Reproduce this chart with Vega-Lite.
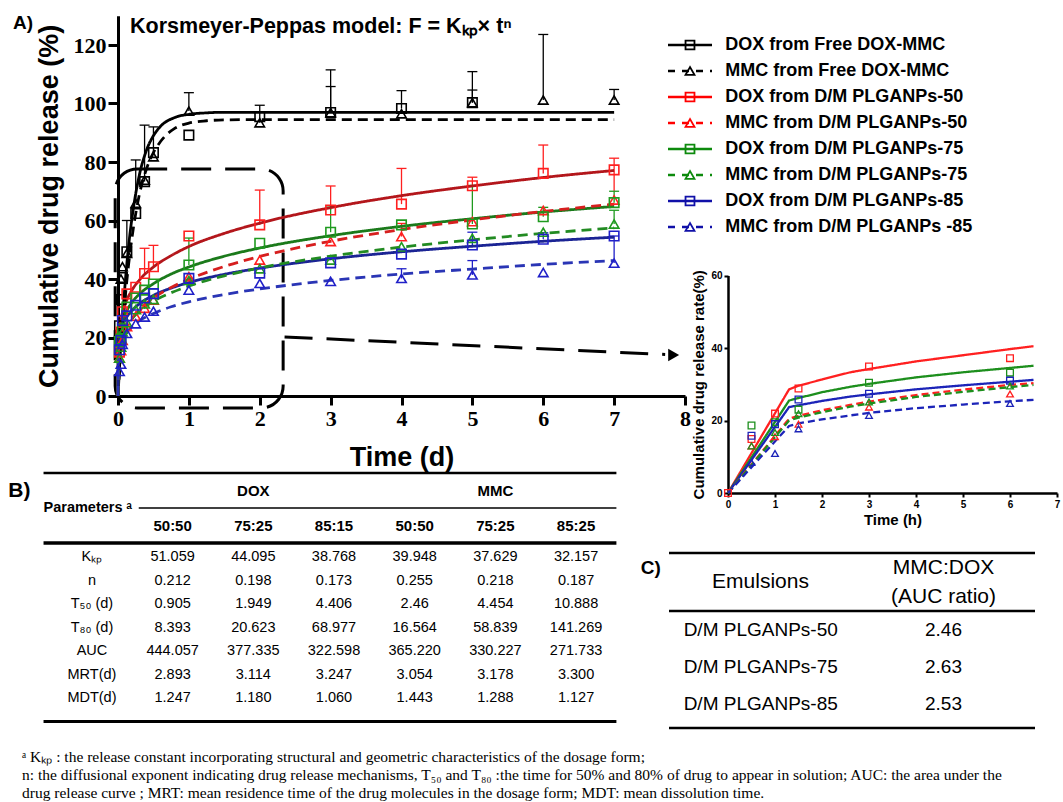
{
"$schema": "https://vega.github.io/schema/vega-lite/v6.json",
"width": 1063, "height": 802, "autosize": {"type": "none"}, "padding": 0,
"background": "white",
"config": {"view": {"stroke": null}, "axis": {"grid": false}},
"datasets": {
"pts": [
{"s":"F-D","t":0.0208,"v":24},{"s":"F-D","t":0.0417,"v":33},{"s":"F-D","t":0.0625,"v":40.5},{"s":"F-D","t":0.125,"v":49.3},{"s":"F-D","t":0.25,"v":62.4},{"s":"F-D","t":0.375,"v":73.3},{"s":"F-D","t":0.5,"v":83.2},{"s":"F-D","t":1,"v":89.2},{"s":"F-D","t":2,"v":95.5},{"s":"F-D","t":3,"v":96.9},{"s":"F-D","t":4,"v":98.3},{"s":"F-D","t":5,"v":100.3},
{"s":"F-M","t":0.0208,"v":22},{"s":"F-M","t":0.0417,"v":40},{"s":"F-M","t":0.0625,"v":44.2},{"s":"F-M","t":0.125,"v":48.8},{"s":"F-M","t":0.25,"v":65.9},{"s":"F-M","t":0.375,"v":73.8},{"s":"F-M","t":0.5,"v":81.8},{"s":"F-M","t":1,"v":97.4},{"s":"F-M","t":2,"v":93.4},{"s":"F-M","t":3,"v":96.9},{"s":"F-M","t":4,"v":96.5},{"s":"F-M","t":5,"v":100.3},{"s":"F-M","t":6,"v":101.2},{"s":"F-M","t":7,"v":101.2},
{"s":"50-D","t":0.0208,"v":15},{"s":"50-D","t":0.0417,"v":21.9},{"s":"50-D","t":0.0625,"v":28.8},{"s":"50-D","t":0.125,"v":34.9},{"s":"50-D","t":0.25,"v":37.2},{"s":"50-D","t":0.375,"v":41.9},{"s":"50-D","t":0.5,"v":44.2},{"s":"50-D","t":1,"v":54.7},{"s":"50-D","t":2,"v":58.5},{"s":"50-D","t":3,"v":63.6},{"s":"50-D","t":4,"v":65.6},{"s":"50-D","t":5,"v":71.9},{"s":"50-D","t":6,"v":76.1},{"s":"50-D","t":7,"v":77.3},
{"s":"50-M","t":0.0208,"v":13},{"s":"50-M","t":0.0417,"v":15.5},{"s":"50-M","t":0.0625,"v":19},{"s":"50-M","t":0.125,"v":23.7},{"s":"50-M","t":0.25,"v":27.3},{"s":"50-M","t":0.375,"v":30},{"s":"50-M","t":0.5,"v":32.8},{"s":"50-M","t":1,"v":40.8},{"s":"50-M","t":2,"v":46.5},{"s":"50-M","t":3,"v":52.8},{"s":"50-M","t":4,"v":54.5},{"s":"50-M","t":5,"v":59.6},{"s":"50-M","t":6,"v":63.4},{"s":"50-M","t":7,"v":67},
{"s":"75-D","t":0.0208,"v":18.6},{"s":"75-D","t":0.0417,"v":19.5},{"s":"75-D","t":0.0625,"v":23},{"s":"75-D","t":0.125,"v":30.4},{"s":"75-D","t":0.25,"v":33.5},{"s":"75-D","t":0.375,"v":36.2},{"s":"75-D","t":0.5,"v":38.3},{"s":"75-D","t":1,"v":44.8},{"s":"75-D","t":2,"v":52.2},{"s":"75-D","t":3,"v":56},{"s":"75-D","t":4,"v":58.5},{"s":"75-D","t":5,"v":58.8},{"s":"75-D","t":6,"v":61.3},{"s":"75-D","t":7,"v":66.1},
{"s":"75-M","t":0.0208,"v":13},{"s":"75-M","t":0.0417,"v":16.7},{"s":"75-M","t":0.0625,"v":21.9},{"s":"75-M","t":0.125,"v":25.1},{"s":"75-M","t":0.25,"v":29.5},{"s":"75-M","t":0.375,"v":31.5},{"s":"75-M","t":0.5,"v":33},{"s":"75-M","t":1,"v":39.5},{"s":"75-M","t":2,"v":43.5},{"s":"75-M","t":3,"v":46.5},{"s":"75-M","t":4,"v":51},{"s":"75-M","t":5,"v":53.9},{"s":"75-M","t":6,"v":56},{"s":"75-M","t":7,"v":58.8},
{"s":"85-D","t":0.0208,"v":15.8},{"s":"85-D","t":0.0417,"v":19},{"s":"85-D","t":0.0625,"v":25.8},{"s":"85-D","t":0.125,"v":27.4},{"s":"85-D","t":0.25,"v":31},{"s":"85-D","t":0.375,"v":33.5},{"s":"85-D","t":0.5,"v":35},{"s":"85-D","t":1,"v":40.2},{"s":"85-D","t":2,"v":42},{"s":"85-D","t":3,"v":45.5},{"s":"85-D","t":4,"v":48.5},{"s":"85-D","t":5,"v":51.6},{"s":"85-D","t":6,"v":53.6},{"s":"85-D","t":7,"v":54.7},
{"s":"85-M","t":0.0208,"v":8.4},{"s":"85-M","t":0.0417,"v":10.9},{"s":"85-M","t":0.0625,"v":17.7},{"s":"85-M","t":0.125,"v":21.4},{"s":"85-M","t":0.25,"v":24.7},{"s":"85-M","t":0.375,"v":27},{"s":"85-M","t":0.5,"v":29},{"s":"85-M","t":1,"v":36.2},{"s":"85-M","t":2,"v":38.5},{"s":"85-M","t":3,"v":39.2},{"s":"85-M","t":4,"v":40.2},{"s":"85-M","t":5,"v":41.4},{"s":"85-M","t":6,"v":42.2},{"s":"85-M","t":7,"v":45.4}
],
"err": [
{"s":"F-D","t":0.125,"v":49.3,"hi":60},{"s":"F-D","t":0.375,"v":73.3,"hi":92.6},{"s":"F-D","t":0.5,"v":83.2,"hi":92},{"s":"F-D","t":3,"v":96.9,"hi":105.8},{"s":"F-D","t":4,"v":98.3,"hi":104.4},{"s":"F-D","t":5,"v":100.3,"hi":104.6},
{"s":"F-M","t":0.25,"v":65.9,"hi":80.7},{"s":"F-M","t":1,"v":97.4,"hi":103.7},{"s":"F-M","t":2,"v":93.4,"hi":99.4},{"s":"F-M","t":3,"v":96.9,"hi":111.5},{"s":"F-M","t":5,"v":100.3,"hi":110.9},{"s":"F-M","t":6,"v":101.2,"hi":123.6},{"s":"F-M","t":7,"v":101.2,"hi":104.8},
{"s":"50-D","t":0.375,"v":41.9,"hi":50.5},{"s":"50-D","t":0.5,"v":44.2,"hi":51.5},{"s":"50-D","t":2,"v":58.5,"hi":70.4},{"s":"50-D","t":3,"v":63.6,"hi":71.8},{"s":"50-D","t":4,"v":65.6,"hi":77.8},{"s":"50-D","t":5,"v":71.9,"hi":74.8},{"s":"50-D","t":6,"v":76.1,"hi":85.8},{"s":"50-D","t":7,"v":70,"hi":81.3},
{"s":"50-M","t":4,"v":54.5,"hi":59},
{"s":"75-D","t":1,"v":44.8,"hi":54},{"s":"75-D","t":3,"v":56,"hi":65},{"s":"75-D","t":5,"v":58.8,"hi":72},{"s":"75-D","t":6,"v":61.3,"hi":64.5},{"s":"75-D","t":7,"v":66.1,"hi":70},
{"s":"75-M","t":7,"v":58.8,"hi":63.5},
{"s":"85-D","t":5,"v":51.6,"hi":56},{"s":"85-D","t":6,"v":53.6,"hi":55.8},{"s":"85-D","t":7,"v":45.5,"hi":54.7},
{"s":"85-M","t":4,"v":40.2,"hi":43.5},{"s":"85-M","t":5,"v":41.4,"hi":46.3}
],
"fit": [
{"s":"F-D","t":0,"v":0},{"s":"F-D","t":0.025,"v":11.4},{"s":"F-D","t":0.05,"v":21.5},{"s":"F-D","t":0.1,"v":38.2},{"s":"F-D","t":0.15,"v":51.4},{"s":"F-D","t":0.2,"v":61.3},{"s":"F-D","t":0.3,"v":75.4},{"s":"F-D","t":0.4,"v":83.9},{"s":"F-D","t":0.5,"v":89},{"s":"F-D","t":0.6,"v":92.2},{"s":"F-D","t":0.8,"v":95.2},{"s":"F-D","t":1,"v":96.3},{"s":"F-D","t":1.25,"v":96.8},{"s":"F-D","t":1.5,"v":97},{"s":"F-D","t":2,"v":97},{"s":"F-D","t":7,"v":97},
{"s":"F-M","t":0,"v":0},{"s":"F-M","t":0.025,"v":9.9},{"s":"F-M","t":0.05,"v":18.9},{"s":"F-M","t":0.1,"v":33.3},{"s":"F-M","t":0.15,"v":45.1},{"s":"F-M","t":0.2,"v":54.6},{"s":"F-M","t":0.3,"v":68.7},{"s":"F-M","t":0.4,"v":77.5},{"s":"F-M","t":0.5,"v":83.2},{"s":"F-M","t":0.6,"v":87},{"s":"F-M","t":0.8,"v":91.5},{"s":"F-M","t":1,"v":93.3},{"s":"F-M","t":1.25,"v":94.1},{"s":"F-M","t":1.5,"v":94.4},{"s":"F-M","t":2,"v":94.5},{"s":"F-M","t":7,"v":94.5},
{"s":"50-D","t":0,"v":0},{"s":"50-D","t":0.005,"v":16.6},{"s":"50-D","t":0.01,"v":19.2},{"s":"50-D","t":0.02,"v":22.3},{"s":"50-D","t":0.05,"v":27.1},{"s":"50-D","t":0.1,"v":31.3},{"s":"50-D","t":0.2,"v":36.3},{"s":"50-D","t":0.3,"v":39.6},{"s":"50-D","t":0.5,"v":44.1},{"s":"50-D","t":0.75,"v":48},{"s":"50-D","t":1,"v":51.1},{"s":"50-D","t":1.5,"v":55.6},{"s":"50-D","t":2,"v":59.1},{"s":"50-D","t":3,"v":64.4},{"s":"50-D","t":4,"v":68.5},{"s":"50-D","t":5,"v":71.8},{"s":"50-D","t":6,"v":74.7},{"s":"50-D","t":7,"v":77.1},
{"s":"75-D","t":0,"v":0},{"s":"75-D","t":0.005,"v":15.4},{"s":"75-D","t":0.01,"v":17.7},{"s":"75-D","t":0.02,"v":20.3},{"s":"75-D","t":0.05,"v":24.4},{"s":"75-D","t":0.1,"v":27.9},{"s":"75-D","t":0.2,"v":32.1},{"s":"75-D","t":0.3,"v":34.8},{"s":"75-D","t":0.5,"v":38.4},{"s":"75-D","t":0.75,"v":41.7},{"s":"75-D","t":1,"v":44.1},{"s":"75-D","t":1.5,"v":47.8},{"s":"75-D","t":2,"v":50.6},{"s":"75-D","t":3,"v":54.8},{"s":"75-D","t":4,"v":58},{"s":"75-D","t":5,"v":60.6},{"s":"75-D","t":6,"v":62.9},{"s":"75-D","t":7,"v":64.8},
{"s":"85-D","t":0,"v":0},{"s":"85-D","t":0.005,"v":15.5},{"s":"85-D","t":0.01,"v":17.5},{"s":"85-D","t":0.02,"v":19.7},{"s":"85-D","t":0.05,"v":23.1},{"s":"85-D","t":0.1,"v":26},{"s":"85-D","t":0.2,"v":29.3},{"s":"85-D","t":0.3,"v":31.5},{"s":"85-D","t":0.5,"v":34.4},{"s":"85-D","t":0.75,"v":36.9},{"s":"85-D","t":1,"v":38.8},{"s":"85-D","t":1.5,"v":41.6},{"s":"85-D","t":2,"v":43.7},{"s":"85-D","t":3,"v":46.9},{"s":"85-D","t":4,"v":49.3},{"s":"85-D","t":5,"v":51.2},{"s":"85-D","t":6,"v":52.9},{"s":"85-D","t":7,"v":54.3},
{"s":"50-M","t":0,"v":0},{"s":"50-M","t":0.005,"v":10.3},{"s":"50-M","t":0.01,"v":12.3},{"s":"50-M","t":0.02,"v":14.7},{"s":"50-M","t":0.05,"v":18.6},{"s":"50-M","t":0.1,"v":22.2},{"s":"50-M","t":0.2,"v":26.5},{"s":"50-M","t":0.3,"v":29.4},{"s":"50-M","t":0.5,"v":33.5},{"s":"50-M","t":0.75,"v":37.1},{"s":"50-M","t":1,"v":39.9},{"s":"50-M","t":1.5,"v":44.3},{"s":"50-M","t":2,"v":47.7},{"s":"50-M","t":3,"v":52.9},{"s":"50-M","t":4,"v":56.9},{"s":"50-M","t":5,"v":60.2},{"s":"50-M","t":6,"v":63.1},{"s":"50-M","t":7,"v":65.6},
{"s":"75-M","t":0,"v":0},{"s":"75-M","t":0.005,"v":11.9},{"s":"75-M","t":0.01,"v":13.8},{"s":"75-M","t":0.02,"v":16},{"s":"75-M","t":0.05,"v":19.6},{"s":"75-M","t":0.1,"v":22.8},{"s":"75-M","t":0.2,"v":26.5},{"s":"75-M","t":0.3,"v":28.9},{"s":"75-M","t":0.5,"v":32.4},{"s":"75-M","t":0.75,"v":35.3},{"s":"75-M","t":1,"v":37.6},{"s":"75-M","t":1.5,"v":41.1},{"s":"75-M","t":2,"v":43.8},{"s":"75-M","t":3,"v":47.8},{"s":"75-M","t":4,"v":50.9},{"s":"75-M","t":5,"v":53.4},{"s":"75-M","t":6,"v":55.6},{"s":"75-M","t":7,"v":57.5},
{"s":"85-M","t":0,"v":0},{"s":"85-M","t":0.005,"v":11.9},{"s":"85-M","t":0.01,"v":13.6},{"s":"85-M","t":0.02,"v":15.5},{"s":"85-M","t":0.05,"v":18.4},{"s":"85-M","t":0.1,"v":20.9},{"s":"85-M","t":0.2,"v":23.8},{"s":"85-M","t":0.3,"v":25.7},{"s":"85-M","t":0.5,"v":28.2},{"s":"85-M","t":0.75,"v":30.5},{"s":"85-M","t":1,"v":32.2},{"s":"85-M","t":1.5,"v":34.7},{"s":"85-M","t":2,"v":36.6},{"s":"85-M","t":3,"v":39.5},{"s":"85-M","t":4,"v":41.7},{"s":"85-M","t":5,"v":43.4},{"s":"85-M","t":6,"v":45},{"s":"85-M","t":7,"v":46.3}
],
"ipts": [
{"s":"50-D","t":0,"v":0},{"s":"50-D","t":0.5,"v":14.9},{"s":"50-D","t":1,"v":21.9},{"s":"50-D","t":1.5,"v":28.8},{"s":"50-D","t":3,"v":34.9},{"s":"50-D","t":6,"v":37.2},
{"s":"75-D","t":0.5,"v":18.6},{"s":"75-D","t":1,"v":19.5},{"s":"75-D","t":1.5,"v":23},{"s":"75-D","t":3,"v":30.4},{"s":"75-D","t":6,"v":33.2},
{"s":"85-D","t":0.5,"v":15.8},{"s":"85-D","t":1,"v":19},{"s":"85-D","t":1.5,"v":25.8},{"s":"85-D","t":3,"v":27.4},{"s":"85-D","t":6,"v":31},
{"s":"50-M","t":0.5,"v":13},{"s":"50-M","t":1,"v":15.5},{"s":"50-M","t":1.5,"v":19},{"s":"50-M","t":3,"v":23.7},{"s":"50-M","t":6,"v":27.3},
{"s":"75-M","t":0.5,"v":13},{"s":"75-M","t":1,"v":16.7},{"s":"75-M","t":1.5,"v":21.9},{"s":"75-M","t":3,"v":25.1},{"s":"75-M","t":6,"v":29.5},
{"s":"85-M","t":0.5,"v":8.4},{"s":"85-M","t":1,"v":10.9},{"s":"85-M","t":1.5,"v":17.7},{"s":"85-M","t":3,"v":21.4},{"s":"85-M","t":6,"v":24.7}
],
"ifit": [
{"s":"50-D","t":0,"v":0},{"s":"50-D","t":1.3,"v":28.6},{"s":"50-D","t":1.5,"v":29.6},{"s":"50-D","t":2,"v":31.3},{"s":"50-D","t":2.6,"v":33.3},{"s":"50-D","t":3,"v":34.2},{"s":"50-D","t":4,"v":36.3},{"s":"50-D","t":5,"v":38},{"s":"50-D","t":6,"v":39.7},{"s":"50-D","t":6.5,"v":40.5},
{"s":"75-D","t":0,"v":0},{"s":"75-D","t":1.3,"v":25.5},{"s":"75-D","t":1.5,"v":26.2},{"s":"75-D","t":2,"v":27.8},{"s":"75-D","t":2.6,"v":29.3},{"s":"75-D","t":3,"v":30.1},{"s":"75-D","t":4,"v":31.9},{"s":"75-D","t":5,"v":33.3},{"s":"75-D","t":6,"v":34.5},{"s":"75-D","t":6.5,"v":35.1},
{"s":"85-D","t":0,"v":0},{"s":"85-D","t":1.3,"v":23.7},{"s":"85-D","t":1.5,"v":24.2},{"s":"85-D","t":2,"v":25.4},{"s":"85-D","t":2.6,"v":26.6},{"s":"85-D","t":3,"v":27.2},{"s":"85-D","t":4,"v":28.6},{"s":"85-D","t":5,"v":29.7},{"s":"85-D","t":6,"v":30.7},{"s":"85-D","t":6.5,"v":31.2},
{"s":"50-M","t":0,"v":0},{"s":"50-M","t":1.3,"v":20.5},{"s":"50-M","t":1.5,"v":21.3},{"s":"50-M","t":2,"v":22.8},{"s":"50-M","t":2.6,"v":24.3},{"s":"50-M","t":3,"v":25.2},{"s":"50-M","t":4,"v":27},{"s":"50-M","t":5,"v":28.5},{"s":"50-M","t":6,"v":29.8},{"s":"50-M","t":6.5,"v":30.3},
{"s":"75-M","t":0,"v":0},{"s":"75-M","t":1.3,"v":20},{"s":"75-M","t":1.5,"v":20.8},{"s":"75-M","t":2,"v":22.3},{"s":"75-M","t":2.6,"v":23.8},{"s":"75-M","t":3,"v":24.7},{"s":"75-M","t":4,"v":26.5},{"s":"75-M","t":5,"v":27.9},{"s":"75-M","t":6,"v":29.2},{"s":"75-M","t":6.5,"v":29.8},
{"s":"85-M","t":0,"v":0},{"s":"85-M","t":1.3,"v":18.5},{"s":"85-M","t":1.5,"v":19.2},{"s":"85-M","t":2,"v":20.3},{"s":"85-M","t":2.6,"v":21.4},{"s":"85-M","t":3,"v":22.1},{"s":"85-M","t":4,"v":23.4},{"s":"85-M","t":5,"v":24.4},{"s":"85-M","t":6,"v":25.3},{"s":"85-M","t":6.5,"v":25.7}
],
"tbc": [
{"r":"Kkp","c":"lab","txt":"Kₖₚ"},{"r":"n","c":"lab","txt":"n"},{"r":"T50","c":"lab","txt":"T₅₀ (d)"},{"r":"T80","c":"lab","txt":"T₈₀ (d)"},{"r":"AUC","c":"lab","txt":"AUC"},{"r":"MRT","c":"lab","txt":"MRT(d)"},{"r":"MDT","c":"lab","txt":"MDT(d)"},
{"r":"Kkp","c":"d50","txt":"51.059"},{"r":"Kkp","c":"d75","txt":"44.095"},{"r":"Kkp","c":"d85","txt":"38.768"},{"r":"Kkp","c":"m50","txt":"39.948"},{"r":"Kkp","c":"m75","txt":"37.629"},{"r":"Kkp","c":"m85","txt":"32.157"},
{"r":"n","c":"d50","txt":"0.212"},{"r":"n","c":"d75","txt":"0.198"},{"r":"n","c":"d85","txt":"0.173"},{"r":"n","c":"m50","txt":"0.255"},{"r":"n","c":"m75","txt":"0.218"},{"r":"n","c":"m85","txt":"0.187"},
{"r":"T50","c":"d50","txt":"0.905"},{"r":"T50","c":"d75","txt":"1.949"},{"r":"T50","c":"d85","txt":"4.406"},{"r":"T50","c":"m50","txt":"2.46"},{"r":"T50","c":"m75","txt":"4.454"},{"r":"T50","c":"m85","txt":"10.888"},
{"r":"T80","c":"d50","txt":"8.393"},{"r":"T80","c":"d75","txt":"20.623"},{"r":"T80","c":"d85","txt":"68.977"},{"r":"T80","c":"m50","txt":"16.564"},{"r":"T80","c":"m75","txt":"58.839"},{"r":"T80","c":"m85","txt":"141.269"},
{"r":"AUC","c":"d50","txt":"444.057"},{"r":"AUC","c":"d75","txt":"377.335"},{"r":"AUC","c":"d85","txt":"322.598"},{"r":"AUC","c":"m50","txt":"365.220"},{"r":"AUC","c":"m75","txt":"330.227"},{"r":"AUC","c":"m85","txt":"271.733"},
{"r":"MRT","c":"d50","txt":"2.893"},{"r":"MRT","c":"d75","txt":"3.114"},{"r":"MRT","c":"d85","txt":"3.247"},{"r":"MRT","c":"m50","txt":"3.054"},{"r":"MRT","c":"m75","txt":"3.178"},{"r":"MRT","c":"m85","txt":"3.300"},
{"r":"MDT","c":"d50","txt":"1.247"},{"r":"MDT","c":"d75","txt":"1.180"},{"r":"MDT","c":"d85","txt":"1.060"},{"r":"MDT","c":"m50","txt":"1.443"},{"r":"MDT","c":"m75","txt":"1.288"},{"r":"MDT","c":"m85","txt":"1.127"}
]
},
"layer": [
{
"encoding": {
 "x": {"field":"t","type":"quantitative","scale":{"domain":[0,8],"range":[118,685],"nice":false,"zero":false},
  "axis":{"orient":"bottom","offset":-406,"values":[0,1,2,3,4,5,6,7,8],"title":"Time (d)","titleFont":"Liberation Sans","titleFontSize":27,"titleFontWeight":"bold","titleColor":"#000","titlePadding":15,"labelFont":"Liberation Serif","labelFontSize":22,"labelFontWeight":"bold","labelColor":"#000","labelPadding":3,"tickSize":9,"tickWidth":3,"tickColor":"#000","domainWidth":3,"domainColor":"#000","labelFlush":false,"labelOverlap":false}},
 "y": {"field":"v","type":"quantitative","scale":{"domain":[0,130],"range":[396,15.75],"nice":false,"zero":false},
  "axis":{"orient":"left","offset":-118,"values":[0,20,40,60,80,100,120],"title":"Cumulative drug release (%)","titleFont":"Liberation Sans","titleFontSize":27,"titleFontWeight":"bold","titleColor":"#000","titlePadding":10,"labelFont":"Liberation Serif","labelFontSize":22,"labelFontWeight":"bold","labelColor":"#000","labelPadding":2,"tickSize":10,"tickWidth":3,"tickColor":"#000","domainWidth":3,"domainColor":"#000","labelFlush":false,"labelOverlap":false}}
},
"layer": [
 {"data":{"values":[{"t":-0.04,"t2":2.33,"v":-4.1,"v2":77.6}]},"mark":{"type":"rect","fillOpacity":0,"fill":"white","stroke":"#000","strokeWidth":3,"strokeDash":[30,14],"cornerRadius":22},"encoding":{"x2":{"field":"t2"},"y2":{"field":"v2"}}},
 {"data":{"values":[{"t":2.35,"v":20.2,"t2":7.72,"v2":14.2}]},"mark":{"type":"rule","stroke":"#000","strokeWidth":3,"strokeDash":[28,14]},"encoding":{"x2":{"field":"t2"},"y2":{"field":"v2"}}},
 {"data":{"values":[{"t":7.84,"v":14.0}]},"mark":{"type":"point","shape":"triangle-right","filled":true,"color":"#000","size":160,"opacity":1}},
 {"data":{"name":"err"},"mark":{"type":"rule","strokeWidth":1.3},"encoding":{"y2":{"field":"hi"},"stroke":{"field":"s","type":"nominal","scale":{"domain":["F-D","F-M","50-D","50-M","75-D","75-M","85-D","85-M"],"range":["#000000","#000000","#ff2020","#ff2020","#1f9a1f","#1f9a1f","#2020c8","#2020c8"]},"legend":null}}},
 {"data":{"name":"err"},"mark":{"type":"point","shape":"stroke","size":100,"strokeWidth":1.3,"opacity":1,"filled":false},"encoding":{"y":{"field":"hi","type":"quantitative"},"stroke":{"field":"s","type":"nominal","legend":null}}},
 {"data":{"name":"fit"},"mark":{"type":"line","strokeWidth":2.8,"interpolate":"monotone"},"encoding":{"color":{"field":"s","type":"nominal","scale":{"domain":["F-D","F-M","50-D","50-M","75-D","75-M","85-D","85-M"],"range":["#000000","#000000","#b3161b","#d61f1f","#1b7a1b","#228b22","#1b2494","#2a35b5"]},"legend":null},"strokeDash":{"field":"s","type":"nominal","scale":{"domain":["F-D","F-M","50-D","50-M","75-D","75-M","85-D","85-M"],"range":[[1,0],[10,6],[1,0],[10,6],[1,0],[10,6],[1,0],[10,6]]},"legend":null}}},
 {"data":{"name":"pts"},"mark":{"type":"point","filled":false,"size":90,"strokeWidth":1.6,"opacity":1},"encoding":{"shape":{"field":"s","type":"nominal","scale":{"domain":["F-D","F-M","50-D","50-M","75-D","75-M","85-D","85-M"],"range":["square","triangle-up","square","triangle-up","square","triangle-up","square","triangle-up"]},"legend":null},"stroke":{"field":"s","type":"nominal","legend":null}}},
 {"data":{"values":[{"t":0.17,"v":126.2,"txt":"Korsmeyer-Peppas model: F = Kₖₚ×  tⁿ"}]},"mark":{"type":"text","align":"left","baseline":"middle","font":"Liberation Sans","fontSize":21.5,"fontWeight":"bold","color":"#000"},"encoding":{"text":{"field":"txt"}}},
 {"data":{"values":[{"t":-1.48,"v":127.5,"txt":"A)"}]},"mark":{"type":"text","align":"left","baseline":"middle","font":"Liberation Sans","fontSize":19,"fontWeight":"bold","color":"#000"},"encoding":{"text":{"field":"txt"}}}
]
},
{
"data": {"values": [{"s":"F-D","name":"DOX from Free DOX-MMC"},{"s":"F-M","name":"MMC from Free DOX-MMC"},{"s":"50-D","name":"DOX from D/M PLGANPs-50"},{"s":"50-M","name":"MMC from D/M PLGANPs-50"},{"s":"75-D","name":"DOX from D/M PLGANPs-75"},{"s":"75-M","name":"MMC from D/M PLGANPs-75"},{"s":"85-D","name":"DOX from D/M PLGANPs-85"},{"s":"85-M","name":"MMC from D/M PLGANPs -85"}]},
"encoding": {"y": {"field":"s","type":"nominal","scale":{"type":"point","domain":["F-D","F-M","50-D","50-M","75-D","75-M","85-D","85-M"],"range":[45,227],"padding":0},"axis":null}},
"layer": [
 {"mark":{"type":"rule","strokeWidth":2.5},"encoding":{"x":{"datum":0,"type":"quantitative","scale":{"domain":[0,1],"range":[668,712],"nice":false,"zero":false},"axis":null},"x2":{"datum":1},"color":{"field":"s","type":"nominal","scale":{"domain":["F-D","F-M","50-D","50-M","75-D","75-M","85-D","85-M"],"range":["#000000","#000000","#ff0000","#ff0000","#0d8a0d","#0d8a0d","#1010a8","#1010a8"]},"legend":null},"strokeDash":{"field":"s","type":"nominal","scale":{"domain":["F-D","F-M","50-D","50-M","75-D","75-M","85-D","85-M"],"range":[[1,0],[7,7],[1,0],[7,7],[1,0],[7,7],[1,0],[7,7]]},"legend":null}}},
 {"mark":{"type":"point","filled":false,"size":80,"strokeWidth":1.8,"opacity":1},"encoding":{"x":{"datum":0.5,"type":"quantitative"},"shape":{"field":"s","type":"nominal","scale":{"domain":["F-D","F-M","50-D","50-M","75-D","75-M","85-D","85-M"],"range":["square","triangle-up","square","triangle-up","square","triangle-up","square","triangle-up"]},"legend":null},"stroke":{"field":"s","type":"nominal","scale":{"domain":["F-D","F-M","50-D","50-M","75-D","75-M","85-D","85-M"],"range":["#000000","#000000","#ff0000","#ff0000","#0d8a0d","#0d8a0d","#1010a8","#1010a8"]},"legend":null}}},
 {"mark":{"type":"text","align":"left","baseline":"middle","font":"Liberation Sans","fontSize":18,"fontWeight":"bold","color":"#000"},"encoding":{"x":{"datum":1.3,"type":"quantitative"},"text":{"field":"name"}}}
]
},
{
"encoding": {
 "x": {"field":"t","type":"quantitative","scale":{"domain":[0,7],"range":[728,1057],"nice":false,"zero":false},
  "axis":{"orient":"bottom","offset":-309,"values":[0,1,2,3,4,5,6,7],"title":"Time (h)","titleFont":"Liberation Sans","titleFontSize":15,"titleFontWeight":"bold","titleColor":"#000","titlePadding":3,"labelFont":"Liberation Sans","labelFontSize":10,"labelFontWeight":"bold","labelColor":"#000","labelPadding":2,"tickSize":4,"tickWidth":2,"tickColor":"#000","domainWidth":2.5,"domainColor":"#000","labelFlush":false,"labelOverlap":false}},
 "y": {"field":"v","type":"quantitative","scale":{"domain":[0,60],"range":[493,275.5],"nice":false,"zero":false},
  "axis":{"orient":"left","offset":-728,"values":[0,20,40,60],"title":"Cumulative drug release rate(%)","titleFont":"Liberation Sans","titleFontSize":15,"titleFontWeight":"bold","titleColor":"#000","titlePadding":4,"labelFont":"Liberation Sans","labelFontSize":10,"labelFontWeight":"bold","labelColor":"#000","labelPadding":2,"tickSize":4,"tickWidth":2,"tickColor":"#000","domainWidth":2.5,"domainColor":"#000","labelFlush":false,"labelOverlap":false}}
},
"layer": [
 {"data":{"name":"ifit"},"mark":{"type":"line","strokeWidth":2.3,"interpolate":"linear"},"encoding":{"color":{"field":"s","type":"nominal","scale":{"domain":["50-D","50-M","75-D","75-M","85-D","85-M"],"range":["#ff2020","#ff2020","#1d8f1d","#1d8f1d","#1c24b8","#1c24b8"]},"legend":null},"strokeDash":{"field":"s","type":"nominal","scale":{"domain":["50-D","50-M","75-D","75-M","85-D","85-M"],"range":[[1,0],[7,4],[1,0],[7,4],[1,0],[7,4]]},"legend":null}}},
 {"data":{"name":"ipts"},"mark":{"type":"point","filled":false,"size":45,"strokeWidth":1.3,"opacity":1},"encoding":{"shape":{"field":"s","type":"nominal","scale":{"domain":["50-D","50-M","75-D","75-M","85-D","85-M"],"range":["square","triangle-up","square","triangle-up","square","triangle-up"]},"legend":null},"stroke":{"field":"s","type":"nominal","scale":{"domain":["50-D","50-M","75-D","75-M","85-D","85-M"],"range":["#ff2020","#ff2020","#1d8f1d","#1d8f1d","#1c24b8","#1c24b8"]},"legend":null}}}
]
},
{
"layer": [
 {
 "encoding": {
  "x": {"field":"c","type":"nominal","scale":{"type":"band","domain":["lab","d50","d75","d85","m50","m75","m85"],"range":[51.6,616.4],"paddingInner":0,"paddingOuter":0},"axis":null,"bandPosition":0.5},
  "y": {"field":"r","type":"nominal","scale":{"type":"point","domain":["Kkp","n","T50","T80","AUC","MRT","MDT","end"],"range":[557,721.5],"padding":0},"axis":null}
 },
 "layer": [
  {"data":{"name":"tbc"},"mark":{"type":"text","font":"Liberation Sans","fontSize":14.5,"color":"#000","align":"center","baseline":"middle"},"encoding":{"text":{"field":"txt"}}},
  {"data":{"values":[{"r":"end","c":"lab","c2":"m85"}]},"mark":{"type":"rule","strokeWidth":3,"color":"#000"},"encoding":{"x":{"field":"c","type":"nominal","bandPosition":-0.1},"x2":{"field":"c2","bandPosition":1}}}
 ]
 },
 {
 "encoding": {
  "y": {"field":"r","type":"nominal","scale":{"type":"point","domain":["top","grp","mid","sub","thick"],"range":[473,543],"padding":0},"axis":null}
 },
 "layer": [
  {"data":{"values":[{"r":"grp","c":"d75","txt":"DOX"},{"r":"grp","c":"m75","txt":"MMC"},{"r":"sub","c":"d50","txt":"50:50"},{"r":"sub","c":"d75","txt":"75:25"},{"r":"sub","c":"d85","txt":"85:15"},{"r":"sub","c":"m50","txt":"50:50"},{"r":"sub","c":"m75","txt":"75:25"},{"r":"sub","c":"m85","txt":"85:25"}]},"mark":{"type":"text","font":"Liberation Sans","fontSize":15,"fontWeight":"bold","color":"#000","align":"center","baseline":"middle"},"encoding":{"x":{"field":"c","type":"nominal","bandPosition":0.5},"text":{"field":"txt"}}},
  {"data":{"values":[{"r":"mid","c":"lab","txt":"Parameters ᵃ"}]},"mark":{"type":"text","font":"Liberation Sans","fontSize":14.5,"fontWeight":"bold","color":"#000","align":"left","baseline":"middle"},"encoding":{"x":{"field":"c","type":"nominal","bandPosition":-0.1},"text":{"field":"txt"}}},
  {"data":{"values":[{"r":"grp","c":"lab","txt":"B)"}]},"mark":{"type":"text","font":"Liberation Sans","fontSize":21,"fontWeight":"bold","color":"#000","align":"center","baseline":"middle"},"encoding":{"x":{"field":"c","type":"nominal","bandPosition":-0.4},"text":{"field":"txt"}}},
  {"data":{"values":[{"r":"top","c":"lab","c2":"m85"}]},"mark":{"type":"rule","strokeWidth":2.5,"color":"#000"},"encoding":{"x":{"field":"c","type":"nominal","bandPosition":-0.1},"x2":{"field":"c2","bandPosition":1}}},
  {"data":{"values":[{"r":"thick","c":"lab","c2":"m85"}]},"mark":{"type":"rule","strokeWidth":3.5,"color":"#000"},"encoding":{"x":{"field":"c","type":"nominal","bandPosition":-0.1},"x2":{"field":"c2","bandPosition":1}}},
  {"data":{"values":[{"r":"mid","c":"d50","c2":"m85"}]},"mark":{"type":"rule","strokeWidth":1.5,"color":"#000"},"encoding":{"x":{"field":"c","type":"nominal","bandPosition":0.08},"x2":{"field":"c2","bandPosition":1}}}
 ]
 }
],
"resolve": {"scale": {"y": "independent"}}
},
{
"layer": [
 {
 "encoding": {
  "y": {"field":"r","type":"nominal","scale":{"type":"point","domain":["top","h1","hc","h2","line"],"range":[553,611],"padding":0},"axis":null}
 },
 "layer": [
  {"data":{"values":[{"r":"hc","c":"lab","txt":"Emulsions"},{"r":"h1","c":"val","txt":"MMC:DOX"},{"r":"h2","c":"val","txt":"(AUC ratio)"}]},"mark":{"type":"text","font":"Liberation Sans","fontSize":21,"color":"#000","align":"center","baseline":"middle"},"encoding":{"x":{"field":"c","type":"nominal","scale":{"type":"band","domain":["lab","val"],"range":[669,1035],"paddingInner":0,"paddingOuter":0},"axis":null,"bandPosition":0.5},"text":{"field":"txt"}}},
  {"data":{"values":[{"r":"h1","c":"lab","txt":"C)"}]},"mark":{"type":"text","font":"Liberation Sans","fontSize":19,"fontWeight":"bold","color":"#000","align":"center","baseline":"middle"},"encoding":{"x":{"field":"c","type":"nominal","bandPosition":-0.1},"text":{"field":"txt"}}},
  {"data":{"values":[{"r":"top","c":"lab","c2":"val"},{"r":"line","c":"lab","c2":"val"}]},"mark":{"type":"rule","strokeWidth":2.5,"color":"#000"},"encoding":{"x":{"field":"c","type":"nominal","bandPosition":0},"x2":{"field":"c2","bandPosition":1}}}
 ]
 },
 {
 "encoding": {
  "y": {"field":"r","type":"nominal","scale":{"type":"band","domain":["r50","r75","r85"],"range":[611.5,722.5],"paddingInner":0,"paddingOuter":0},"axis":null,"bandPosition":0.5}
 },
 "layer": [
  {"data":{"values":[{"r":"r50","c":"lab","txt":"D/M PLGANPs-50"},{"r":"r75","c":"lab","txt":"D/M PLGANPs-75"},{"r":"r85","c":"lab","txt":"D/M PLGANPs-85"}]},"mark":{"type":"text","font":"Liberation Sans","fontSize":19,"color":"#000","align":"left","baseline":"middle"},"encoding":{"x":{"field":"c","type":"nominal","bandPosition":0.08},"text":{"field":"txt"}}},
  {"data":{"values":[{"r":"r50","c":"val","txt":"2.46"},{"r":"r75","c":"val","txt":"2.63"},{"r":"r85","c":"val","txt":"2.53"}]},"mark":{"type":"text","font":"Liberation Sans","fontSize":19,"color":"#000","align":"center","baseline":"middle"},"encoding":{"x":{"field":"c","type":"nominal","bandPosition":0.5},"text":{"field":"txt"}}},
  {"data":{"values":[{"r":"r85","c":"lab","c2":"val"}]},"mark":{"type":"rule","strokeWidth":2.5,"color":"#000"},"encoding":{"y":{"field":"r","type":"nominal","bandPosition":1.15},"x":{"field":"c","type":"nominal","bandPosition":0},"x2":{"field":"c2","bandPosition":1}}}
 ]
 }
],
"resolve": {"scale": {"y": "independent"}}
},
{
"data": {"values": [
 {"f":"f1","c":"f","txt":"ᵃ Kₖₚ : the release constant incorporating structural and geometric characteristics of the dosage form;"},
 {"f":"f2","c":"f","txt":"n: the diffusional exponent indicating drug release mechanisms, T₅₀ and T₈₀ :the time for 50% and 80% of drug to appear in solution; AUC: the area under the"},
 {"f":"f3","c":"f","txt":"drug release curve ; MRT: mean residence time of the drug molecules in the dosage form; MDT: mean dissolution time."}
]},
"mark": {"type":"text","align":"left","baseline":"middle","font":"Liberation Serif","fontSize":15.5,"color":"#000"},
"encoding": {
 "x": {"field":"c","type":"nominal","scale":{"type":"band","domain":["f"],"range":[22,1050]},"axis":null,"bandPosition":0},
 "y": {"field":"f","type":"nominal","scale":{"type":"point","domain":["f1","f2","f3"],"range":[757,793],"padding":0},"axis":null},
 "text": {"field":"txt"}
}
}
],
"resolve": {"scale": {"x":"independent","y":"independent","color":"independent","stroke":"independent","shape":"independent","strokeDash":"independent"}, "axis": {"x":"independent","y":"independent"}}
}
